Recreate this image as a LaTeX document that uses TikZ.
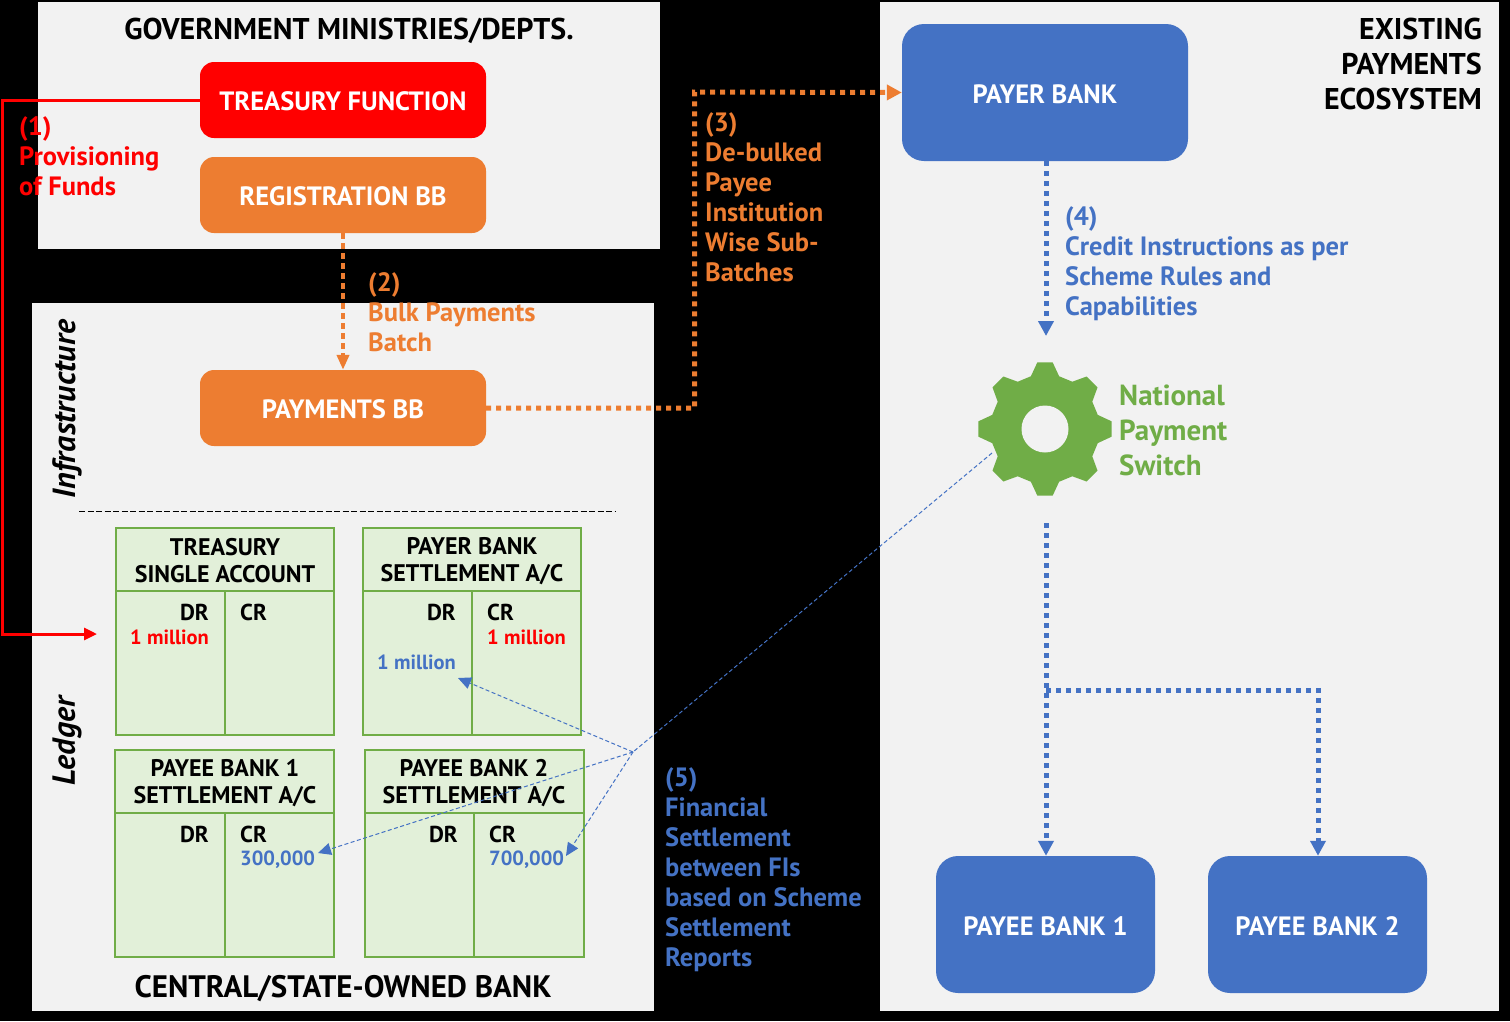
\documentclass[tikz,border=0pt]{standalone}
\usepackage{fontspec}
\setmainfont{PT Sans}
\definecolor{panelgrey}{HTML}{F2F2F2}
\definecolor{stepred}{HTML}{FF0000}
\definecolor{steporange}{HTML}{ED7D31}
\definecolor{stepblue}{HTML}{4472C4}
\definecolor{stepgreen}{HTML}{70AD47}
\definecolor{ledgerfill}{HTML}{E2F0D9}
\usetikzlibrary{arrows.meta}
\tikzset{
  panel/.style={fill=panelgrey, inner sep=0pt},
  bigtext/.style={font=\bfseries\fontsize{30}{35}\selectfont, inner sep=0pt},
  sidetext/.style={font=\bfseries\itshape\fontsize{32}{35}\selectfont, inner sep=0pt, rotate=90},
  boxtext/.style={font=\bfseries\fontsize{26.5}{30}\selectfont, text=white, text height=22pt, rounded corners=14pt},
  stepnote/.style={font=\bfseries\fontsize{26.5}{30}\selectfont, align=left, anchor=west, inner sep=0pt},
  ledgerbox/.style={draw=stepgreen, fill=ledgerfill, line width=2.5pt, inner sep=0pt},
  headtext/.style={font=\bfseries\fontsize{24}{27}\selectfont, inner sep=0pt, align=center},
  drcrtext/.style={font=\bfseries\fontsize{23}{27}\selectfont, inner sep=0pt},
  amounttext/.style={font=\bfseries\fontsize{20.5}{25}\selectfont, inner sep=0pt},
  redline/.style={draw=stepred, line width=3pt, -{Triangle[length=13pt,width=12pt]}},
  dashline/.style={line width=4.5pt, dash pattern=on 6pt off 4pt, -{Triangle[length=15pt,width=12pt]}},
  dotline/.style={line width=5pt, dash pattern=on 5pt off 5pt, -{Triangle[length=15pt,width=15pt]}},
  thinline/.style={draw=stepblue, line width=1pt, dash pattern=on 4pt off 2.5pt},
  thintip/.style={-{Triangle[length=13pt,width=12pt]}},
}
\begin{document}
\begin{tikzpicture}[x=1pt, y=-1pt]
\fill[black] (0,0) rectangle (1510,1021);
\useasboundingbox (0,0) rectangle (1510,1021);
% panels
\node[panel, minimum width=622pt, minimum height=247pt] (gov) at (349,125.5) {};
\node[panel, minimum width=622pt, minimum height=708pt] (centralbank) at (343,657) {};
\node[panel, minimum width=619pt, minimum height=1009pt] (ecosystem) at (1189.5,506.5) {};
\node[bigtext] (govtitle) at (349,30.5) {GOVERNMENT MINISTRIES/DEPTS.};
\node[bigtext, font=\bfseries\fontsize{31}{35}\selectfont] (banktitle) at (343,988.5) {CENTRAL/STATE-OWNED BANK};
\node[bigtext, align=right, anchor=east] (ecotitle) at (1482,64) {EXISTING\\PAYMENTS\\ECOSYSTEM};
\node[sidetext] (infra) at (67,409) {Infrastructure};
\node[sidetext] (ledger) at (67,741) {Ledger};
% boxes
\node[boxtext, fill=stepred, minimum width=286pt, minimum height=76pt] (treasury) at (343,100) {TREASURY FUNCTION};
\node[boxtext, fill=steporange, minimum width=286pt, minimum height=76pt] (registration) at (343,195) {REGISTRATION BB};
\node[boxtext, fill=steporange, minimum width=286pt, minimum height=76pt] (payments) at (343,408) {PAYMENTS BB};
\node[boxtext, fill=stepblue, minimum width=286pt, minimum height=137pt, rounded corners=22pt] (payer) at (1045,92.5) {PAYER BANK};
\node[boxtext, fill=stepblue, minimum width=219pt, minimum height=137pt, rounded corners=22pt] (payee1) at (1045.5,924.5) {PAYEE BANK 1};
\node[boxtext, fill=stepblue, minimum width=219pt, minimum height=137pt, rounded corners=22pt] (payee2) at (1317.5,924.5) {PAYEE BANK 2};
% ledgers
\coordinate (sepl) at (79,511);
\coordinate (sepr) at (616,511);
\draw[line width=1pt, dash pattern=on 6pt off 2.5pt] (sepl) -- (sepr);
\node[ledgerbox, minimum width=218pt, minimum height=63pt] (tsahead) at (225,559.5) {};
\node[ledgerbox, minimum width=109pt, minimum height=144pt] (tsadr) at (170.5,663) {};
\node[ledgerbox, minimum width=109pt, minimum height=144pt] (tsacr) at (279.5,663) {};
\node[ledgerbox, minimum width=218pt, minimum height=63pt] (payerhead) at (472,559.5) {};
\node[ledgerbox, minimum width=109pt, minimum height=144pt] (payerdr) at (417.5,663) {};
\node[ledgerbox, minimum width=109pt, minimum height=144pt] (payercr) at (526.5,663) {};
\node[ledgerbox, minimum width=219pt, minimum height=63pt] (payee1head) at (224.5,781.5) {};
\node[ledgerbox, minimum width=110pt, minimum height=144pt] (payee1dr) at (170,885) {};
\node[ledgerbox, minimum width=109pt, minimum height=144pt] (payee1cr) at (279.5,885) {};
\node[ledgerbox, minimum width=219pt, minimum height=63pt] (payee2head) at (474.5,781.5) {};
\node[ledgerbox, minimum width=109pt, minimum height=144pt] (payee2dr) at (419.5,885) {};
\node[ledgerbox, minimum width=110pt, minimum height=144pt] (payee2cr) at (529,885) {};
\node[headtext] (tsatext) at (225,561) {TREASURY\\SINGLE ACCOUNT};
\node[headtext] (payertext) at (472,561) {PAYER BANK\\SETTLEMENT A/C};
\node[headtext] (payee1text) at (225,783) {PAYEE BANK 1\\SETTLEMENT A/C};
\node[headtext] (payee2text) at (474,783) {PAYEE BANK 2\\SETTLEMENT A/C};
\node[drcrtext, anchor=east] (dr1) at (209,612) {DR};
\node[drcrtext, anchor=west] (cr1) at (240,612) {CR};
\node[drcrtext, anchor=east] (dr2) at (456,612) {DR};
\node[drcrtext, anchor=west] (cr2) at (487,612) {CR};
\node[drcrtext, anchor=east] (dr3) at (209,834) {DR};
\node[drcrtext, anchor=west] (cr3) at (240,834) {CR};
\node[drcrtext, anchor=east] (dr4) at (458,834) {DR};
\node[drcrtext, anchor=west] (cr4) at (489,834) {CR};
\node[amounttext, text=stepred, anchor=east] (amt1) at (209,637) {1 million};
\node[amounttext, text=stepred, anchor=west] (amt2) at (487,637) {1 million};
\node[amounttext, text=stepblue, anchor=east] (amt3) at (456,662) {1 million};
\node[amounttext, text=stepblue, anchor=west] (amt4) at (240,860) {300,000};
\node[amounttext, text=stepblue, anchor=west] (amt5) at (489,860) {700,000};
% switch
\fill[stepgreen, shift={(1045,429)}] (-15:54.6)
  \foreach \a in {0,45,...,315} { -- (\a-15:54.6) -- (\a-6.6:67) -- (\a+6.6:67) -- (\a+15:54.6) } -- cycle;
\node[circle, fill=panelgrey, minimum size=47pt, inner sep=0pt] (gearhole) at (1045,429) {};
\node[font=\bfseries\fontsize{29}{35}\selectfont, text=stepgreen, align=left, anchor=west, inner sep=0pt] (switchlabel) at (1119,430) {National\\Payment\\Switch};
% steps
\node[stepnote, text=stepred] (step1) at (19,156) {(1)\\Provisioning\\of Funds};
\node[stepnote, text=steporange] (step2) at (368,312) {(2)\\Bulk Payments\\Batch};
\node[stepnote, text=steporange] (step3) at (705,197) {(3)\\De-bulked\\Payee\\Institution\\Wise Sub-\\Batches};
\node[stepnote, text=stepblue] (step4) at (1065,264) {(4)\\Credit Instructions as per\\Scheme Rules and\\Capabilities};
\node[stepnote, text=stepblue] (step5) at (665,869.5) {(5)\\Financial\\Settlement\\between FIs\\based on Scheme\\Settlement\\Reports};
% connectors
\coordinate (fundsin) at (97,634);
\coordinate (fundscorner) at (2,100);
\draw[redline] (treasury.west) -- (fundscorner) -- (fundscorner |- fundsin) -- (fundsin);
\draw[dashline, color=steporange] (registration.south) -- (payments.north);
\coordinate (debulk) at (694.5,92);
\draw[dotline, color=steporange] (payments.east) -- (debulk |- payments.east) -- (debulk) -- (payer.west);
\coordinate (switchin) at (1046,336);
\coordinate (switchout) at (1046,523);
\coordinate (branch) at (1046,690);
\coordinate (branchend) at (1318,690);
\draw[dotline, color=stepblue] (payer.south -| switchin) -- (switchin);
\draw[dotline, color=stepblue] (switchout) -- (payee1.north -| switchout);
\draw[dotline, color=stepblue] (branch) -- (branchend) -- (payee2.north -| branchend);
% settlement
\coordinate (hub) at (633,752);
\coordinate (gearedge) at (992,453);
\coordinate (payerin) at (458,678);
\coordinate (payee1in) at (318,853);
\coordinate (payee2in) at (566,856);
\draw[thinline] (gearedge) -- (hub);
\draw[thinline, thintip, stepblue] (hub) -- (payerin);
\draw[thinline, thintip, stepblue] (hub) -- (payee1in);
\draw[thinline, thintip, stepblue] (hub) -- (payee2in);
\end{tikzpicture}
\end{document}
